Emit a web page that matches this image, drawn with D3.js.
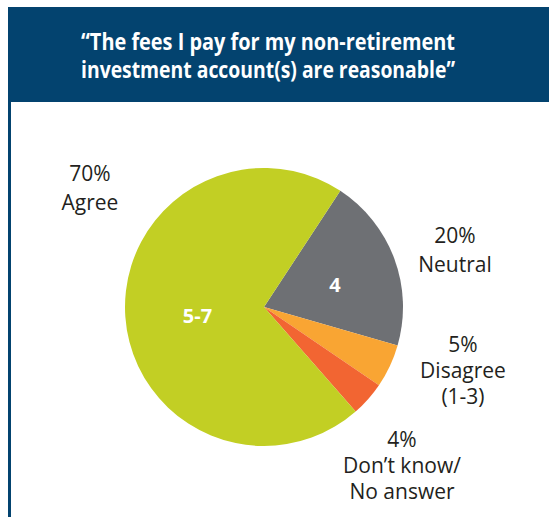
<!DOCTYPE html>
<html><head><meta charset="utf-8">
<script src="https://cdn.jsdelivr.net/npm/d3@7"></script>
<style>body{margin:0;background:#fff}svg{display:block}</style>
</head><body>
<svg id="c" width="549" height="517"></svg>
<script>
const titleLines = ["\u201CThe fees I pay for my non-retirement", "investment account(s) are reasonable\u201D"];
const categories = ["Neutral", "Disagree (1-3)", "Don't know/No answer", "Agree"];
const values = [20, 5, 4, 70];
const innerLabels = ["4", "", "", "5-7"];
const outerLabels = [
  ["20%", "Neutral"],
  ["5%", "Disagree", "(1-3)"],
  ["4%", "Don\u2019t know/", "No answer"],
  ["70%", "Agree"]
];
const colors = ["#6e7074", "#f9a533", "#f26532", "#c2cf24"];

const svg = d3.select("#c");
const font = "'Open Sans', sans-serif";
// header
svg.append("rect").attr("x", 8).attr("y", 7).attr("width", 541).attr("height", 95).attr("fill", "#03436f");
svg.append("rect").attr("x", 8).attr("y", 102).attr("width", 3).attr("height", 415).attr("fill", "#03436f");
svg.selectAll("text.title").data(titleLines).join("text")
  .attr("x", 268).attr("y", (d, i) => 50 + i * 28)
  .attr("text-anchor", "middle").attr("fill", "#fff")
  .attr("font-family", font).attr("font-weight", 700).attr("font-size", 22.5)
  .attr("textLength", 374).attr("lengthAdjust", "spacingAndGlyphs")
  .text(d => d);

const cx = 264, cy = 307, r = 139;
const data = categories.map((c, i) => ({c, v: values[i], i}));
const start = 33.3 * Math.PI / 180;
const pie = d3.pie().value(d => d.v).sort(null).startAngle(start).endAngle(start + 2 * Math.PI);
const arc = d3.arc().innerRadius(0).outerRadius(r);
const g = svg.append("g").attr("transform", `translate(${cx},${cy})`);
const arcs = pie(data);
g.selectAll("path").data(arcs).join("path").attr("d", arc).attr("fill", d => colors[d.data.i]);

// inner labels
const innerK = [0.536, 0, 0, 0.483];
const innerNudge = [2.7, 0, 0, -3.7];
g.selectAll("text.inner").data(arcs.filter(d => innerLabels[d.data.i])).join("text")
  .attr("transform", d => {
    const a = (d.startAngle + d.endAngle) / 2 + innerNudge[d.data.i] * Math.PI / 180;
    const k = innerK[d.data.i];
    return `translate(${Math.sin(a) * r * k},${-Math.cos(a) * r * k})`;
  })
  .attr("text-anchor", "middle").attr("dy", "0.36em")
  .attr("fill", "#fff").attr("font-family", font).attr("font-weight", 700).attr("font-size", 20)
  .text(d => innerLabels[d.data.i]);

// outer labels (positions in page coords)
const outerPos = [[455, 243], [463, 352], [402, 447], [90, 181]];
const lineH = [29, 26, 26, 29];
outerLabels.forEach((lines, i) => {
  const t = svg.append("text").attr("text-anchor", "middle").attr("fill", "#231f20")
    .attr("font-family", font).attr("font-size", 21);
  lines.forEach((l, j) => {
    t.append("tspan").attr("x", outerPos[i][0]).attr("y", outerPos[i][1] + j * lineH[i]).text(l);
  });
});
</script>
</body></html>
